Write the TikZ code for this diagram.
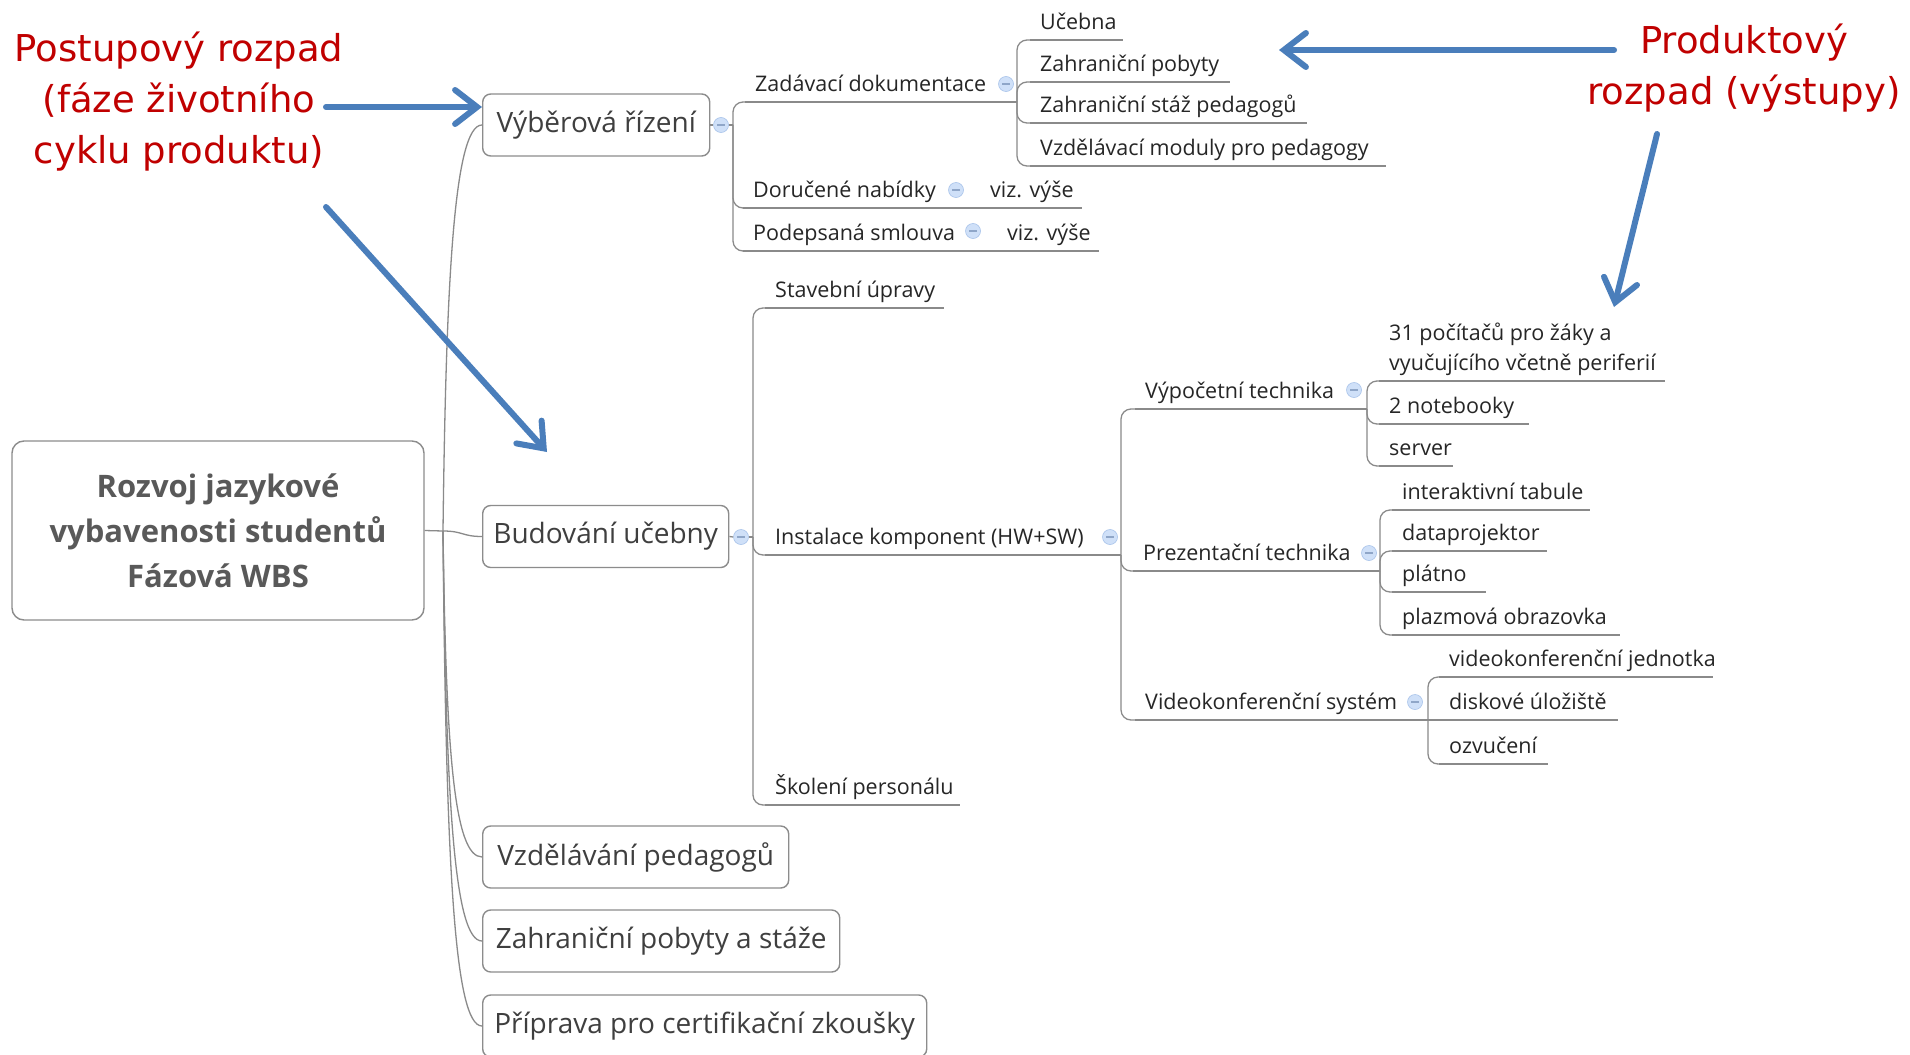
\documentclass[tikz,border=0pt]{standalone}
\usepackage{fontspec}
\setmainfont{Open Sans}
\newfontfamily\redfam{DejaVu Sans}
\usetikzlibrary{arrows.meta}
\definecolor{boxgray}{HTML}{8C8C8C}
\definecolor{linegray}{HTML}{8A8A8A}
\definecolor{lonetxt}{HTML}{3F3F3F}
\definecolor{itemtxt}{HTML}{262626}
\definecolor{roottxt}{HTML}{595959}
\definecolor{redtxt}{HTML}{C00000}
\definecolor{bluearr}{HTML}{4A7EBB}
\definecolor{circfill}{HTML}{CFE0F8}
\definecolor{circdraw}{HTML}{A8C3EA}
\definecolor{circmin}{HTML}{8FA6C8}
\begin{document}
\begin{tikzpicture}[x=1pt,y=-1pt,
 rootbox/.style={draw=boxgray, line width=1.4pt, rounded corners=12pt, minimum width=412pt, minimum height=179pt, align=center, text=roottxt, font=\fontsize{31}{45}\selectfont\bfseries},
 lvlone/.style={draw=boxgray, line width=1.4pt, rounded corners=8pt, minimum height=62pt, anchor=west, text=lonetxt, font=\fontsize{28}{34}\selectfont, inner xsep=10pt},
 mmitem/.style={anchor=south west, text=itemtxt, font=\fontsize{21.5}{30}\selectfont, inner xsep=10pt, inner ysep=0pt, text depth=10pt},
 conn/.style={draw=linegray, line width=1.3pt},
 brconn/.style={conn, rounded corners=10pt},
 collapsemark/.style={circle, minimum size=15pt, inner sep=0pt, fill=circfill, draw=circdraw, line width=0.6pt, path picture={\draw[circmin, line width=1.2pt] ([xshift=-4pt]path picture bounding box.center) -- ([xshift=4pt]path picture bounding box.center);}},
 redlbl/.style={text=redtxt, font=\redfam\fontsize{37}{51}\selectfont, align=center},
 bigarrow/.style={draw=bluearr, line width=6pt, line cap=round, -{Straight Barb[length=22pt, width=34pt, line cap=round]}}
]
\useasboundingbox (0,0) rectangle (1910,1054);
\fill[white] (0,0) rectangle (1910,1054);
\clip (0,0) rectangle (1910,1054);

% root
\node[rootbox] (root) at (218,530.5) {Rozvoj jazykové\\vybavenosti studentů\\Fázová WBS};
\coordinate (trunk) at (443,531);

% level one
\node[lvlone, minimum width=227pt] (V1) at (482,125) {Výběrová řízení};
\node[lvlone, minimum width=246pt] (V2) at (482,536.5) {Budování učebny};
\node[lvlone, minimum width=306pt] (V3) at (482,857) {Vzdělávání pedagogů};
\node[lvlone, minimum width=357pt] (V4) at (482,941) {Zahraniční pobyty a stáže};
\node[lvlone, minimum width=444pt] (V5) at (482,1026) {Příprava pro certifikační zkoušky};

\draw[conn] (root.east) -- (trunk);
\draw[conn] (trunk) .. controls +(3,-250) and +(-28,0) .. (V1.west);
\draw[conn] (trunk) .. controls +(20,0) and +(-20,0) .. (V2.west);
\draw[conn] (trunk) .. controls +(3,220) and +(-28,0) .. (V3.west);
\draw[conn] (trunk) .. controls +(3,270) and +(-28,0) .. (V4.west);
\draw[conn] (trunk) .. controls +(3,330) and +(-28,0) .. (V5.west);

% ---- Výběrová řízení
\node[collapsemark] (V1C) at (721,125) {};
\coordinate (V1B) at (733,125);
\draw[conn] (V1.east) -- (V1C.west);
\draw[conn] (V1C.east) -- (V1B);

\node[mmitem] (zd) at (745,102) {Zadávací dokumentace};
\node[collapsemark] (zdC) at (1006,84) {};
\coordinate (zdB) at (1017,102);
\node[mmitem] (uc) at (1030,40) {Učebna};
\node[mmitem] (zp) at (1030,82) {Zahraniční pobyty};
\node[mmitem] (zs) at (1030,123) {Zahraniční stáž pedagogů};
\node[mmitem] (vm) at (1030,166) {Vzdělávací moduly pro pedagogy};

\node[mmitem] (dn) at (743,208) {Doručené nabídky};
\node[collapsemark] (dnC) at (956,190) {};
\coordinate (dnB) at (968,208);
\node[mmitem] (viz1) at (980,208) {viz. výše};

\node[mmitem] (ps) at (743,251) {Podepsaná smlouva};
\node[collapsemark] (psC) at (973,231) {};
\coordinate (psB) at (985,251);
\node[mmitem] (viz2) at (997,251) {viz. výše};

\draw[brconn] (V1B) |- (zd.south west);
\draw[brconn] (V1B) |- (dn.south west);
\draw[brconn] (V1B) |- (ps.south west);
\draw[conn] (zd.south west) -- (zdB);
\draw[brconn] (zdB) |- (uc.south west);
\draw[brconn] (zdB) |- (zp.south west);
\draw[brconn] (zdB) |- (zs.south west);
\draw[brconn] (zdB) |- (vm.south west);
\draw[conn] (uc.south west) -- ++(93,0);
\draw[conn] (zp.south west) -- ++(200,0);
\draw[conn] (zs.south west) -- ++(277,0);
\draw[conn] (vm.south west) -- ++(356,0);
\draw[conn] (dn.south west) -- (dnB) -- (viz1.south west) -- ++(102,0);
\draw[conn] (ps.south west) -- (psB) -- (viz2.south west) -- ++(102,0);

% ---- Budování učebny
\node[collapsemark] (V2C) at (741,537) {};
\coordinate (V2B) at (753,537);
\draw[conn] (V2.east) -- (V2C.west);
\draw[conn] (V2C.east) -- (V2B);

\node[mmitem] (su) at (765,308) {Stavební úpravy};
\node[mmitem] (ik) at (765,555) {Instalace komponent (HW+SW)};
\node[collapsemark] (ikC) at (1110,537) {};
\coordinate (ikB) at (1121,555);
\node[mmitem] (sp) at (765,805) {Školení personálu};

\draw[brconn] (V2B) |- (su.south west);
\draw[brconn] (V2B) |- (ik.south west);
\draw[brconn] (V2B) |- (sp.south west);
\draw[conn] (su.south west) -- ++(179,0);
\draw[conn] (sp.south west) -- ++(195,0);
\draw[conn] (ik.south west) -- (ikB);

\node[mmitem] (vt) at (1135,409) {Výpočetní technika};
\node[collapsemark] (vtC) at (1354,390) {};
\coordinate (vtB) at (1367,409);
\node[mmitem] (pt) at (1133,571) {Prezentační technika};
\node[collapsemark] (ptC) at (1369,553) {};
\coordinate (ptB) at (1380,571);
\node[mmitem] (vs) at (1135,720) {Videokonferenční systém};
\node[collapsemark] (vsC) at (1415,702) {};
\coordinate (vsB) at (1428,720);

\draw[brconn] (ikB) |- (vt.south west);
\draw[brconn] (ikB) |- (pt.south west);
\draw[brconn] (ikB) |- (vs.south west);
\draw[conn] (vt.south west) -- (vtB);
\draw[conn] (pt.south west) -- (ptB);
\draw[conn] (vs.south west) -- (vsB);

\node[mmitem, align=left] (pc) at (1379,381) {31 počítačů pro žáky a\\vyučujícího včetně periferií};
\node[mmitem] (nb) at (1379,424) {2 notebooky};
\node[mmitem] (sv) at (1379,466) {server};
\draw[brconn] (vtB) |- (pc.south west);
\draw[brconn] (vtB) |- (nb.south west);
\draw[brconn] (vtB) |- (sv.south west);
\draw[conn] (pc.south west) -- ++(286,0);
\draw[conn] (nb.south west) -- ++(150,0);
\draw[conn] (sv.south west) -- ++(74,0);

\node[mmitem] (it) at (1392,510) {interaktivní tabule};
\node[mmitem] (dp) at (1392,551) {dataprojektor};
\node[mmitem] (pl) at (1392,592) {plátno};
\node[mmitem] (po) at (1392,635) {plazmová obrazovka};
\draw[brconn] (ptB) |- (it.south west);
\draw[brconn] (ptB) |- (dp.south west);
\draw[brconn] (ptB) |- (pl.south west);
\draw[brconn] (ptB) |- (po.south west);
\draw[conn] (it.south west) -- ++(198,0);
\draw[conn] (dp.south west) -- ++(155,0);
\draw[conn] (pl.south west) -- ++(94,0);
\draw[conn] (po.south west) -- ++(228,0);

\node[mmitem] (vj) at (1439,677) {videokonferenční jednotka};
\node[mmitem] (du) at (1439,720) {diskové úložiště};
\node[mmitem] (oz) at (1439,764) {ozvučení};
\draw[brconn] (vsB) |- (vj.south west);
\draw[conn] (vsB) -- (du.south west);
\draw[brconn] (vsB) |- (oz.south west);
\draw[conn] (vj.south west) -- ++(274,0);
\draw[conn] (du.south west) -- ++(179,0);
\draw[conn] (oz.south west) -- ++(109,0);

% ---- annotations
\node[redlbl] (red1) at (179,102) {Postupový rozpad\\(fáze životního\\cyklu produktu)};
\node[redlbl] (red2) at (1744,68.5) {Produktový\\rozpad (výstupy)};

\coordinate (a1s) at (326,107);
\coordinate (a2s) at (326,207);
\coordinate (a2e) at (547,452);
\coordinate (a3s) at (1614,50);
\coordinate (a3e) at (1279,50);
\coordinate (a4s) at (1657,134);
\coordinate (a4e) at (1614,307);
\draw[bigarrow] (a1s) -- (a1s -| V1.west);
\draw[bigarrow] (a2s) -- (a2e);
\draw[bigarrow] (a3s) -- (a3e);
\draw[bigarrow] (a4s) -- (a4e);
\end{tikzpicture}
\end{document}
